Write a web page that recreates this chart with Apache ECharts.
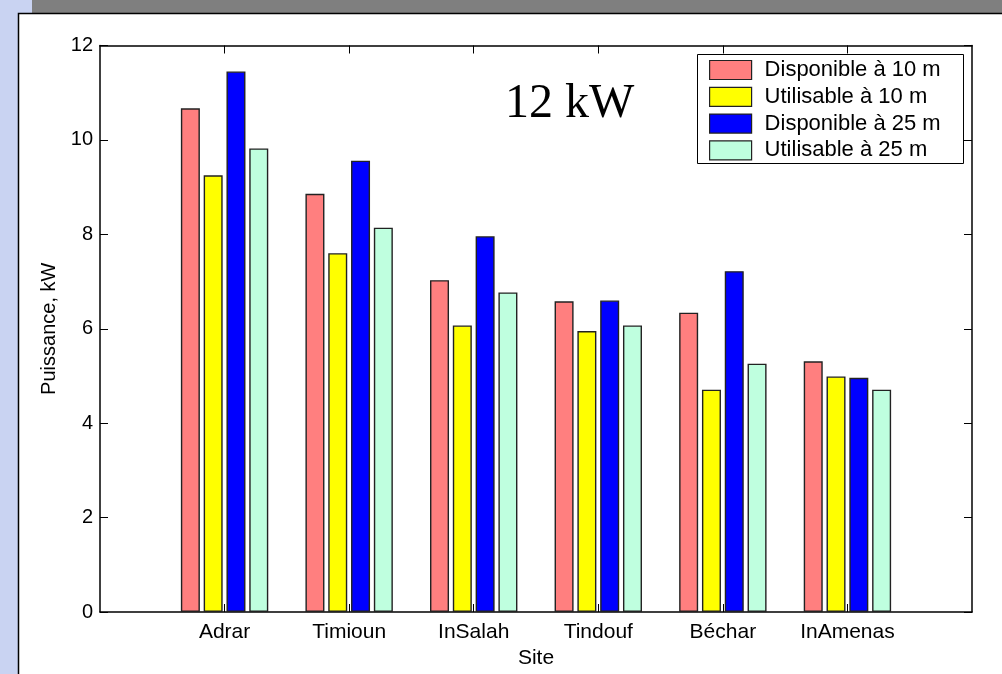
<!DOCTYPE html>
<html><head><meta charset="utf-8">
<script src="https://cdn.jsdelivr.net/npm/echarts@6/dist/echarts.min.js"></script>
<style>html,body{margin:0;padding:0;background:#c9d3f2;}#c{width:1002px;height:674px;}</style>
</head><body><div id="c"></div>
<script>
const categories = ['Adrar','Timioun','InSalah','Tindouf','Béchar','InAmenas'];
const dispo10 = [10.67, 8.86, 7.03, 6.58, 6.34, 5.31];
const util10  = [9.25, 7.60, 6.07, 5.95, 4.71, 4.99];
const dispo25 = [11.45, 9.56, 7.96, 6.60, 7.22, 4.96];
const util25  = [9.82, 8.14, 6.77, 6.07, 5.26, 4.71];
const seriesNames = ['Disponible à 10 m','Utilisable à 10 m','Disponible à 25 m','Utilisable à 25 m'];
const yTicks = [0,2,4,6,8,10,12];

const colors = ['#ff7f7f','#ffff00','#0000ff','#bfffdf'];
const axisCats = [''].concat(categories, ['']);
const pad = a => [null].concat(a, [null]);
const font = 'Liberation Sans, Arial, sans-serif';
const allData = [dispo10, util10, dispo25, util25];
const tickFilter = idx => idx > 0 && idx < axisCats.length - 1;

const chart = echarts.init(document.getElementById('c'));
chart.setOption({
  animation: false,
  backgroundColor: '#c9d3f2',
  textStyle: {fontFamily: font},
  graphic: [
    {type:'rect', shape:{x:32,y:0,width:980,height:13}, style:{fill:'#7f7f7f'}, z:0},
    {type:'rect', shape:{x:18.5,y:13.5,width:1000,height:700}, style:{fill:'#ffffff', stroke:'#000', lineWidth:1.5}, z:0},
    {type:'rect', shape:{x:697.5,y:54.5,width:266,height:109}, style:{fill:'#ffffff', stroke:'#000', lineWidth:1}, z:10},
    {type:'text', left:505, top:80, style:{text:'12 kW', font:'48px "Liberation Serif", "Times New Roman", serif', fill:'#000'}, z:10}
  ],
  grid: {left:100, top:45.5, right:30, bottom:62, containLabel:false},
  legend: {
    orient:'vertical', left:709, top:59, itemWidth:42, itemHeight:19, itemGap:4.8,
    icon:'rect', data: seriesNames, z:11, padding:0,
    textStyle:{fontSize:22, lineHeight:19, color:'#000', fontFamily:font, padding:[0,0,0,8]},
    itemStyle:{borderColor:'#222', borderWidth:1.2}
  },
  xAxis: [{
    type:'category', data: axisCats, boundaryGap:false,
    axisLine:{onZero:false, lineStyle:{color:'#000', width:1.5}},
    axisTick:{inside:true, length:8, lineStyle:{color:'#000'}, interval:tickFilter},
    axisLabel:{fontSize:21, color:'#000', margin:10, interval:0},
    name:'Site', nameLocation:'middle', nameGap:33, nameTextStyle:{fontSize:21, color:'#000'},
    splitLine:{show:false}
  },{
    type:'category', data: axisCats, boundaryGap:false, position:'top',
    axisLine:{onZero:false, lineStyle:{color:'#000', width:1.5}},
    axisTick:{inside:true, length:8, lineStyle:{color:'#000'}, interval:tickFilter},
    axisLabel:{show:false}
  }],
  yAxis: [{
    type:'value', min:0, max:12, interval:2,
    axisLine:{show:true, onZero:false, lineStyle:{color:'#000', width:1.5}},
    axisTick:{show:true, inside:true, length:8, lineStyle:{color:'#000'}},
    axisLabel:{fontSize:20, color:'#000', margin:7},
    splitLine:{show:false},
    name:'Puissance, kW', nameLocation:'middle', nameGap:38, nameRotate:90,
    nameTextStyle:{fontSize:20, color:'#000'}
  },{
    type:'value', min:0, max:12, interval:2, position:'right',
    axisLine:{show:true, onZero:false, lineStyle:{color:'#000', width:1.5}},
    axisTick:{show:true, inside:true, length:8, lineStyle:{color:'#000'}},
    axisLabel:{show:false}, splitLine:{show:false}
  }],
  series: seriesNames.map((n,i)=>({
    name:n, type:'bar', data: pad(allData[i]), barWidth:19, barGap:'20%',
    itemStyle:{color:colors[i], borderColor:'#222', borderWidth:1.4}
  }))
});
</script></body></html>
